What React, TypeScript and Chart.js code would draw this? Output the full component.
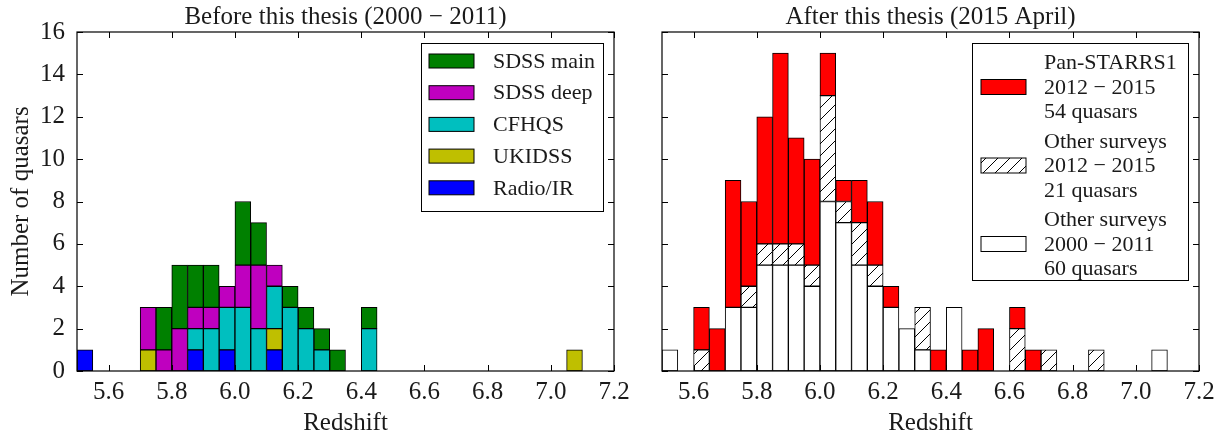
import React, { useEffect, useRef } from "react";
import { Chart, registerables } from "chart.js";

Chart.register(...registerables);

// ---------- data ----------
const BIN_LEFT_EDGES = [
  5.5, 5.55, 5.6, 5.65, 5.7, 5.75, 5.8, 5.85, 5.9, 5.95,
  6.0, 6.05, 6.1, 6.15, 6.2, 6.25, 6.3, 6.35, 6.4, 6.45,
  6.5, 6.55, 6.6, 6.65, 6.7, 6.75, 6.8, 6.85, 6.9, 6.95,
  7.0, 7.05, 7.1, 7.15,
];
const BIN_WIDTH = 0.05;
const X_TICKS = [5.6, 5.8, 6.0, 6.2, 6.4, 6.6, 6.8, 7.0, 7.2];
const Y_TICKS = [0, 2, 4, 6, 8, 10, 12, 14, 16];

// Left panel (before this thesis)
const RADIO_IR = [1,0,0,0,0,0,0,1,0,1, 0,0,1,0,0,0,0,0,0,0, 0,0,0,0,0,0,0,0,0,0, 0,0,0,0];
const UKIDSS   = [0,0,0,0,1,0,0,0,0,0, 0,0,1,0,0,0,0,0,0,0, 0,0,0,0,0,0,0,0,0,0, 0,1,0,0];
const CFHQS    = [0,0,0,0,0,0,0,1,2,2, 3,2,2,3,2,1,0,0,2,0, 0,0,0,0,0,0,0,0,0,0, 0,0,0,0];
const SDSS_DEEP= [0,0,0,0,2,1,2,1,1,1, 2,3,1,0,0,0,0,0,0,0, 0,0,0,0,0,0,0,0,0,0, 0,0,0,0];
const SDSS_MAIN= [0,0,0,0,0,2,3,2,2,0, 3,2,0,1,1,1,1,0,1,0, 0,0,0,0,0,0,0,0,0,0, 0,0,0,0];

// Right panel (after this thesis)
const OTHER_2000_2011 = [1,0,0,0,3,3,5,5,5,4, 8,7,5,4,3,2,1,0,3,0, 0,0,0,0,0,0,0,0,0,0, 0,1,0,0];
const OTHER_2012_2015 = [0,0,1,0,0,1,1,1,1,1, 5,1,2,1,0,0,2,0,0,0, 0,0,2,0,1,0,0,1,0,0, 0,0,0,0];
const PS1_2012_2015   = [0,0,2,2,6,4,6,9,5,5, 2,1,2,3,1,0,0,1,0,1, 2,0,1,1,0,0,0,0,0,0, 0,0,0,0];

const LEFT_TITLE = "Before this thesis (2000 \u2212 2011)";
const RIGHT_TITLE = "After this thesis (2015 April)";
const X_TITLE = "Redshift";
const Y_TITLE = "Number of quasars";

const LEFT_LEGEND = [
  { label: "SDSS main", color: "#008000" },
  { label: "SDSS deep", color: "#bf00bf" },
  { label: "CFHQS", color: "#00bfbf" },
  { label: "UKIDSS", color: "#bfbf00" },
  { label: "Radio/IR", color: "#0000ff" },
];
const RIGHT_LEGEND_LINES = [
  ["Pan-STARRS1", "2012 \u2212 2015", "54 quasars"],
  ["Other surveys", "2012 \u2212 2015", "21 quasars"],
  ["Other surveys", "2000 \u2212 2011", "60 quasars"],
];

// ---------- styling ----------
const FAMILY = "'Liberation Serif', 'Times New Roman', serif";
const FS = 25; // axes, ticks, titles
const LFS = 22; // legend
const TEXT = "#1a1a1a";

function makeHatch(): CanvasPattern | string {
  const c = document.createElement("canvas");
  const s = 12;
  c.width = s;
  c.height = s;
  const g = c.getContext("2d");
  if (!g) return "#fff";
  g.fillStyle = "#fff";
  g.fillRect(0, 0, s, s);
  g.strokeStyle = "#000";
  g.lineWidth = 1;
  g.beginPath();
  g.moveTo(-1, s + 1);
  g.lineTo(s + 1, -1);
  g.moveTo(-2, 2);
  g.lineTo(2, -2);
  g.moveTo(s - 2, s + 2);
  g.lineTo(s + 2, s - 2);
  g.stroke();
  const p = g.createPattern(c, "repeat");
  return p || "#fff";
}

const centers = BIN_LEFT_EDGES.map((e) => e + BIN_WIDTH / 2);
const toPoints = (arr: number[]) =>
  arr.map((v, i) => ({ x: centers[i], y: v > 0 ? v : null }));

function barDataset(label: string, values: number[], color: any) {
  return {
    label,
    data: toPoints(values),
    backgroundColor: color,
    borderColor: "#000",
    borderWidth: 1,
    borderSkipped: false,
    barPercentage: 1,
    categoryPercentage: 1,
  };
}

function framePlugin(title: string, drawLegend: (chart: any) => void) {
  return {
    id: "frameTicks",
    afterDatasetsDraw(chart: any) {
      const { ctx, chartArea: a, scales } = chart;
      const xs = scales.x;
      const ys = scales.y;
      ctx.save();
      ctx.strokeStyle = "#000";
      ctx.lineWidth = 1;
      const L = 6;
      ctx.beginPath();
      X_TICKS.forEach((v) => {
        const px = Math.round(xs.getPixelForValue(v)) + 0.5;
        ctx.moveTo(px, a.bottom);
        ctx.lineTo(px, a.bottom - L);
        ctx.moveTo(px, a.top);
        ctx.lineTo(px, a.top + L);
      });
      Y_TICKS.forEach((v) => {
        const py = Math.round(ys.getPixelForValue(v)) + 0.5;
        ctx.moveTo(a.left, py);
        ctx.lineTo(a.left + L, py);
        ctx.moveTo(a.right, py);
        ctx.lineTo(a.right - L, py);
      });
      ctx.stroke();
      ctx.lineWidth = 1.2;
      ctx.strokeRect(a.left, a.top, a.right - a.left, a.bottom - a.top);
      ctx.restore();
    },
    afterDraw(chart: any) {
      const { ctx, chartArea: a } = chart;
      ctx.save();
      ctx.fillStyle = TEXT;
      ctx.font = `${FS}px ${FAMILY}`;
      ctx.textAlign = "center";
      ctx.textBaseline = "middle";
      ctx.fillText(title, (a.left + a.right) / 2, a.top - 15);
      ctx.restore();
      drawLegend(chart);
    },
  };
}

function drawLeftLegend(chart: any) {
  const { ctx, chartArea: a } = chart;
  const w = 182;
  const h = 168;
  const x0 = a.right - 11 - w;
  const y0 = a.top + 11;
  ctx.save();
  ctx.fillStyle = "#fff";
  ctx.fillRect(x0, y0, w, h);
  ctx.strokeStyle = "#000";
  ctx.lineWidth = 1;
  ctx.strokeRect(x0 + 0.5, y0 + 0.5, w, h);
  ctx.font = `${LFS}px ${FAMILY}`;
  ctx.textBaseline = "middle";
  ctx.textAlign = "left";
  LEFT_LEGEND.forEach((item, i) => {
    const cy = y0 + 18 + i * 31.7;
    ctx.fillStyle = item.color;
    ctx.fillRect(x0 + 8, cy - 7, 45, 14);
    ctx.strokeRect(x0 + 8, cy - 7, 45, 14);
    ctx.fillStyle = TEXT;
    ctx.fillText(item.label, x0 + 72, cy + 1);
  });
  ctx.restore();
}

function makeRightLegend(hatch: any) {
  const fills = ["#ff0000", hatch, "#ffffff"];
  return (chart: any) => {
    const { ctx, chartArea: a } = chart;
    const w = 216;
    const h = 237;
    const x0 = a.right - 11 - w;
    const y0 = a.top + 11;
    ctx.save();
    ctx.fillStyle = "#fff";
    ctx.fillRect(x0, y0, w, h);
    ctx.strokeStyle = "#000";
    ctx.lineWidth = 1;
    ctx.strokeRect(x0 + 0.5, y0 + 0.5, w, h);
    ctx.font = `${LFS}px ${FAMILY}`;
    ctx.textBaseline = "middle";
    ctx.textAlign = "left";
    RIGHT_LEGEND_LINES.forEach((lines, i) => {
      const cy = y0 + 44 + i * 78.5;
      ctx.fillStyle = fills[i];
      ctx.fillRect(x0 + 9, cy - 7.5, 45, 15);
      ctx.strokeRect(x0 + 9, cy - 7.5, 45, 15);
      ctx.fillStyle = TEXT;
      lines.forEach((t, j) => {
        ctx.fillText(t, x0 + 72, cy + (j - 1) * 24.5 + 1);
      });
    });
    ctx.restore();
  };
}

function makeOptions(showYLabels: boolean, yWidth: number, rightPad: number) {
  const font = { family: FAMILY, size: FS };
  return {
    responsive: false,
    animation: false as const,
    layout: { padding: { top: 32, right: rightPad, left: 0, bottom: 0 } },
    plugins: { legend: { display: false }, tooltip: { enabled: false }, title: { display: false } },
    scales: {
      x: {
        type: "linear" as const,
        min: 5.5,
        max: 7.2,
        offset: false,
        stacked: true,
        afterBuildTicks: (s: any) => {
          s.ticks = X_TICKS.map((v) => ({ value: v }));
        },
        afterFit: (s: any) => {
          s.height = 69;
        },
        grid: { display: false, drawTicks: false, offset: false },
        border: { display: false },
        ticks: {
          padding: 6,
          font,
          color: TEXT,
          maxRotation: 0,
          autoSkip: false,
          callback: (v: any) => Number(v).toFixed(1),
        },
        title: { display: true, text: X_TITLE, font, color: TEXT, padding: { top: 0, bottom: 2 } },
      },
      y: {
        type: "linear" as const,
        min: 0,
        max: 16,
        stacked: true,
        afterBuildTicks: (s: any) => {
          s.ticks = Y_TICKS.map((v) => ({ value: v }));
        },
        afterFit: (s: any) => {
          s.width = yWidth;
        },
        grid: { display: false, drawTicks: false },
        border: { display: false },
        ticks: { display: showYLabels, padding: 12, font, color: TEXT },
        title: {
          display: showYLabels,
          text: Y_TITLE,
          font,
          color: TEXT,
          padding: { top: 6, bottom: 0 },
        },
      },
    },
  };
}

export default function App() {
  const leftRef = useRef<HTMLCanvasElement>(null);
  const rightRef = useRef<HTMLCanvasElement>(null);

  useEffect(() => {
    if (!leftRef.current || !rightRef.current) return;
    const hatch = makeHatch();
    const left = new Chart(leftRef.current, {
      type: "bar",
      data: {
        datasets: [
          barDataset("Radio/IR", RADIO_IR, "#0000ff"),
          barDataset("UKIDSS", UKIDSS, "#bfbf00"),
          barDataset("CFHQS", CFHQS, "#00bfbf"),
          barDataset("SDSS deep", SDSS_DEEP, "#bf00bf"),
          barDataset("SDSS main", SDSS_MAIN, "#008000"),
        ],
      },
      options: makeOptions(true, 77, 26) as any,
      plugins: [framePlugin(LEFT_TITLE, drawLeftLegend)],
    });
    const right = new Chart(rightRef.current, {
      type: "bar",
      data: {
        datasets: [
          barDataset("Other surveys 2000 - 2011", OTHER_2000_2011, "#ffffff"),
          barDataset("Other surveys 2012 - 2015", OTHER_2012_2015, hatch),
          barDataset("Pan-STARRS1 2012 - 2015", PS1_2012_2015, "#ff0000"),
        ],
      },
      options: makeOptions(false, 22, 27) as any,
      plugins: [framePlugin(RIGHT_TITLE, makeRightLegend(hatch))],
    });
    return () => {
      left.destroy();
      right.destroy();
    };
  }, []);

  return (
    <div
      style={{
        position: "fixed",
        left: 0,
        top: 0,
        width: 1226,
        height: 440,
        background: "#fff",
        overflow: "hidden",
      }}
    >
      <canvas
        ref={leftRef}
        width={640}
        height={440}
        style={{ position: "absolute", left: 0, top: 0, width: 640, height: 440 }}
      />
      <canvas
        ref={rightRef}
        width={586}
        height={440}
        style={{ position: "absolute", left: 640, top: 0, width: 586, height: 440 }}
      />
    </div>
  );
}
